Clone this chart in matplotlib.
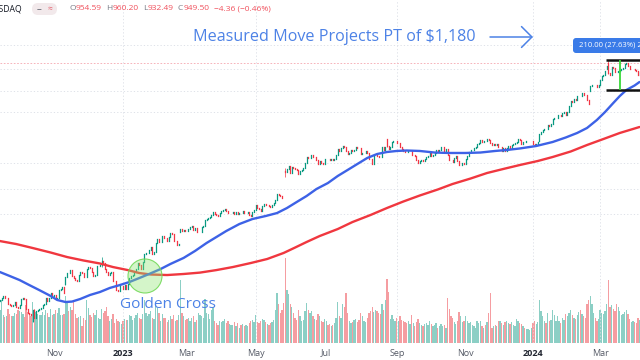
import matplotlib
matplotlib.use("Agg")
import matplotlib.pyplot as plt
import numpy as np
import pandas as pd
from matplotlib.patches import Ellipse, FancyBboxPatch
from matplotlib.transforms import IdentityTransform

W, H = 640, 360

# daily closes, 2022-09-15 .. 2024-04-05
close = [
    130.3, 131.9, 134.0, 131.8, 132.6, 125.6, 125.2, 124.0, 124.9, 127.6, 122.2, 121.4,  # Sep 22
    124.5, 131.0, 132.1, 131.3, 120.8, 116.7, 115.9, 115.0, 119.6, 112.3,
    118.9, 119.7, 120.5, 121.9, 124.7, 125.9, 132.6, 129.0, 131.8, 138.3, 135.0,  # Oct
    135.4, 131.0, 132.6, 141.6, 142.2, 145.0, 137.5, 157.5, 163.3, 163.2,
    166.7, 159.1, 156.8, 154.1, 153.2, 160.4, 165.2, 163.2, 158.3, 157.8, 169.2,  # Nov
    171.9, 169.6, 165.0, 158.7, 160.5, 172.4, 172.7, 174.1, 180.3, 177.6,
    169.2, 165.0, 160.9, 162.6, 164.3, 153.2, 152.1, 141.2, 140.4, 146.0, 146.1,  # Dec
    143.2, 147.5, 142.7, 148.6, 156.3, 159.1, 160.0, 165.1, 169.0, 177.0,
    173.8, 168.6, 178.4, 192.0, 192.6, 193.2, 198.0, 203.7, 191.9, 195.4,  # Jan 23
    209.4, 217.9, 211.0, 211.7, 222.3, 219.3, 218.4, 212.7, 221.3, 228.2,
    225.4, 213.9, 213.9, 206.6, 207.3, 236.6, 232.9, 234.4, 232.2,  # Feb
    231.4, 236.6, 239.3, 242.6, 233.6, 237.9, 229.2, 229.7, 230.0, 240.6, 242.3, 255.4,
    257.3, 259.0, 262.0, 264.7, 271.9, 267.8, 265.3, 264.1, 269.8, 273.8, 277.8,  # Mar
    279.7, 274.5, 268.8, 270.4, 271.0, 272.3, 267.7, 273.1, 267.4, 270.4,
    269.4, 273.8, 271.0, 271.0, 272.1, 265.7, 263.8, 271.6, 277.5,  # Apr
    289.1, 282.5, 278.4, 275.4, 286.7, 291.5, 288.5, 289.8, 287.0, 283.4, 289.5,
    294.4, 301.8, 316.8, 312.6, 311.8, 306.9, 305.4, 379.8, 389.5, 401.1, 378.3,  # May
    397.7, 393.3, 391.7, 386.5, 374.75, 385.1, 387.7, 394.8, 410.2, 430.0,
    426.5, 426.9, 438.1, 430.1, 430.3, 422.1, 406.3, 418.8, 411.2, 408.2, 423.0,  # Jun
    424.1, 423.2, 421.8, 425.0, 421.8, 424.1, 439.0, 459.8, 454.7, 464.6,
    474.9, 470.8, 455.2, 443.1, 446.1, 456.8, 454.5, 459.0, 467.5, 467.3,  # Jul
    465.1, 442.7, 445.2, 446.8, 454.2, 446.6, 425.5, 423.9, 408.5, 437.5, 439.4, 434.9,
    433.4, 433.0, 469.7, 456.7, 471.2, 471.6, 460.2, 468.4, 487.8, 492.6, 493.6,  # Aug
    485.1, 485.5, 470.6, 462.4, 455.7, 451.8, 448.7, 454.9, 455.8, 439.0,
    439.7, 435.2, 422.4, 410.2, 416.1, 422.2, 419.1, 424.7, 430.9, 435.0,  # Sep
    447.8, 435.2, 440.4, 446.9, 457.6, 452.7, 458.0, 468.1, 469.5, 454.6, 461.0,
    439.4, 422.0, 421.0, 413.9, 429.8, 436.6, 417.8, 403.3, 405.0, 411.6, 407.8,  # Oct
    423.2, 435.1, 450.1, 457.5, 459.6, 465.7, 469.5, 483.4, 486.2, 496.6,
    488.9, 494.8, 493.0, 504.1, 499.4, 487.2, 477.8, 482.4, 478.2, 481.4, 467.7,  # Nov
    467.7, 455.1, 465.7, 455.0, 466.0, 475.1, 466.3, 476.6, 480.9, 483.5,
    488.9, 500.8, 496.0, 481.1, 489.9, 488.3, 492.8, 494.2, 495.2, 495.2,  # Dec
    481.7, 475.7, 480.0, 491.0, 522.5, 531.4, 543.5, 548.2, 547.1, 563.8,
    560.5, 571.1, 594.9, 596.5, 598.7, 613.6, 616.2, 610.3, 624.7, 627.7, 615.3,  # Jan 24
    630.3, 661.6, 693.3, 682.2, 701.0, 696.4, 721.3, 722.5, 721.3, 739.0,
    726.6, 726.1, 694.5, 674.7, 785.4, 788.2, 790.9, 787.0, 776.6, 791.1,  # Feb
    822.8, 852.4, 859.6, 887.0, 926.7, 875.3, 857.7, 919.1, 908.9, 879.4,
    878.4, 884.6, 894.0, 903.7, 914.4, 942.9, 950.0, 925.6, 902.5, 903.6,  # Mar
    903.6, 894.5, 889.6, 859.1, 880.1,  # Apr
]

# volume, millions of shares
volume = [
    60, 77, 50, 47, 49, 61, 53, 48, 49, 55, 53, 60,
    58, 56, 52, 47, 68, 57, 53, 48, 74, 62, 56, 53, 51, 50, 57, 50, 60, 54, 47, 62, 50,
    53, 59, 55, 64, 50, 50, 52, 85, 73, 58, 66, 59, 78, 52, 46, 47, 48, 30, 46, 42, 77,
    64, 50, 47, 55, 50, 60, 45, 44, 62, 55, 58, 65, 48, 40, 44, 52, 36, 44, 40, 38, 35,
    40, 43, 41, 42, 50, 49, 42, 46, 51, 55, 46, 43, 53, 77, 55, 48, 52, 58, 45, 44,
    70, 63, 55, 40, 52, 45, 45, 38, 42, 48, 43, 50, 40, 42, 50, 114, 54, 48, 42,
    43, 46, 40, 45, 48, 38, 42, 55, 50, 48, 46, 80, 55, 52, 44, 60, 65, 40, 36, 32, 40, 38, 40,
    43, 37, 40, 34, 32, 33, 38, 30, 36, 28, 32, 34, 30, 32, 30, 37, 40, 42, 38,
    50, 38, 36, 40, 44, 42, 38, 35, 33, 36, 38, 42, 60, 90, 70, 55, 60, 72, 154, 96, 88, 70,
    65, 55, 45, 42, 60, 48, 40, 42, 58, 72, 60, 55, 58, 48, 44, 42, 52, 48, 40, 38, 44,
    40, 32, 35, 30, 33, 36, 45, 75, 48, 46, 70, 66, 90, 55, 40, 36, 38, 42, 44, 38,
    42, 55, 48, 40, 38, 45, 55, 58, 66, 56, 60, 58, 54, 52, 70, 60, 78, 116, 92, 44, 50, 44, 40,
    45, 40, 48, 42, 40, 38, 36, 40, 34, 50, 36, 30, 38, 44, 36, 32, 30, 34, 36, 32,
    40, 34, 30, 32, 36, 28, 30, 34, 30, 32, 28, 82, 62, 48, 46, 38, 34, 40, 56, 48, 38, 40,
    48, 40, 36, 38, 32, 30, 28, 40, 36, 40, 30, 28, 32, 38, 55, 90, 28, 30, 32, 30, 40,
    40, 36, 32, 38, 40, 36, 34, 38, 32, 30, 44, 40, 36, 34, 30, 28, 26, 26, 24, 28,
    36, 40, 34, 38, 78, 58, 48, 40, 36, 55, 40, 42, 60, 50, 40, 48, 40, 36, 46, 42, 52,
    48, 55, 60, 50, 45, 44, 50, 56, 60, 52, 48, 46, 70, 78, 85, 70, 55, 45, 40, 44,
    60, 55, 52, 58, 70, 114, 66, 68, 62, 58, 70, 66, 58, 50, 52, 56, 60, 52, 44, 38,
    40, 38, 36, 46, 42,
]

# bars whose open is not the previous close (gaps)
gap_open = {0: 129.0, 20: 109.0, 40: 148.5, 110: 230.2, 174: 385.0,
            236: 502.2, 329: 495.1, 360: 750.2, 370: 901.6, 371: 951.4}
# notable wicks (low, high)
wicks = {20: (108.1, 119.8), 40: (148.0, 158.0), 62: (172.0, 187.0),
         174: (366.0, 394.8), 236: (471.0, 502.7), 371: (865.0, 974.0)}

# moving averages (bar index, value)
ma50_bar = [0, 6, 12, 18, 24, 31, 35, 40, 44, 49, 55, 61, 67, 73, 79, 85, 91, 98,
            104, 112, 119, 126, 132, 138, 146, 154, 162, 169, 175, 181, 187, 193,
            200, 206, 212, 218, 224, 230, 236, 242, 248, 256, 265, 274, 284, 293,
            302, 309, 317, 327, 337, 345, 352, 358, 364, 369, 374, 378, 382, 387, 390]
ma50 = [164.5, 159.1, 153.8, 147.4, 141.4, 134.5, 130.1, 127.9, 128.4, 131.2, 135.7,
        139.1, 143.9, 147.4, 151.3, 156.4, 161.8, 168.7, 176.0, 185.1, 196.3, 209.8,
        220.6, 232.0, 246.0, 256.6, 263.1, 269.8, 281.3, 296.0, 311.2, 330.0, 347.0,
        368.1, 387.1, 407.2, 428.2, 442.6, 450.2, 454.1, 455.9, 454.1, 448.2, 446.5,
        446.5, 448.2, 454.1, 457.8, 463.7, 473.4, 489.5, 508.4, 528.1, 550.6, 588.8,
        629.7, 678.9, 720.1, 757.3, 786.4, 809.8]
ma200_bar = [0, 10, 20, 31, 41, 51, 61, 69, 78, 85, 92, 102, 112, 122, 132, 142,
             153, 163, 173, 180, 187, 195, 206, 215, 226, 236, 246, 256, 267, 276,
             287, 297, 307, 317, 328, 337, 348, 358, 368, 378, 390]
ma200 = [213.3, 208.0, 201.2, 193.7, 186.5, 181.2, 176.7, 171.5, 167.2, 163.1, 161.1,
         160.4, 161.8, 163.7, 167.2, 171.5, 177.4, 183.5, 193.0, 202.0, 211.6, 222.5,
         235.9, 250.2, 265.4, 281.4, 297.2, 312.5, 328.7, 344.2, 360.4, 377.4, 390.5,
         403.6, 417.5, 431.6, 452.0, 477.4, 502.0, 528.1, 555.2]

tick_months = ["2022-11", "2023-01", "2023-03", "2023-05", "2023-07",
               "2023-09", "2023-11", "2024-01", "2024-03"]
tick_labels = ["Nov", "2023", "Mar", "May", "Jul", "Sep", "Nov", "2024", "Mar"]
grid_months = ["2023-01", "2023-05", "2023-09", "2024-01", "2024-03"]
grid_prices = [1105, 903, 751, 630, 410, 330, 268]

last_price = 949.50
range_low, range_high = 760.0, 970.0
range_start, range_mid = 370, 378

HOLIDAYS = ["2022-11-24", "2022-12-26", "2023-01-02", "2023-01-16", "2023-02-20",
            "2023-04-07", "2023-05-29", "2023-06-19", "2023-07-04", "2023-09-04",
            "2023-11-23", "2023-12-25", "2024-01-01", "2024-01-15", "2024-02-19",
            "2024-03-29"]

UP, DOWN = "#089981", "#f23645"
VOL_UP, VOL_DOWN = "#8ccfc5", "#f59da1"
BLUE, RED = "#3d62e6", "#f0373f"
NOTE_BLUE = "#4d82e6"
FONT = "Open Sans"


def fx(px):
    return px / W


def fy(py):
    return 1 - py / H


dates = pd.bdate_range("2022-09-15", periods=len(close), freq="C", holidays=HOLIDAYS)
month_key = dates.strftime("%Y-%m")


def first_bar(month):
    return int(np.argmax(month_key == month))


c = np.array(close)
o = np.r_[c[0], c[:-1]]
for i, v in gap_open.items():
    o[i] = v
x = np.arange(len(c))
up = c >= o

plt.rcParams["font.family"] = [FONT, "DejaVu Sans"]
fig = plt.figure(figsize=(W / 100, H / 100), dpi=100)
rect = [0, 17 / H, 1, 343 / H]

ax_vol = fig.add_axes(rect)
ax_vol.bar(x, volume, width=0.8, color=np.where(up, VOL_UP, VOL_DOWN), linewidth=0)
ax_vol.set_ylim(0, 621)
ax_vol.set_xlim(0.07, 390.3)
ax_vol.axis("off")

ax = fig.add_axes(rect, sharex=ax_vol)
ax.patch.set_alpha(0)
ax.set_yscale("log")
ax.set_ylim(90.7, 1611)
ax.set_xlim(0.07, 390.3)
for s in ax.spines.values():
    s.set_visible(False)
ax.yaxis.set_visible(False)

for p in grid_prices:
    ax.axhline(p, color="#d9dde5", lw=0.6, ls=(0, (1.5, 2.5)), zorder=0)
for m in grid_months:
    ax.axvline(first_bar(m), color="#d9dde5", lw=0.6, ls=(0, (1.5, 2.5)), zorder=0)
ax.axhline(last_price, color="#f5a6af", lw=0.6, ls=(0, (2, 2)), zorder=1)

wk = list(wicks)
ax.vlines(wk, [wicks[i][0] for i in wk], [wicks[i][1] for i in wk],
          colors=[UP if up[i] else DOWN for i in wk], lw=0.5, zorder=2)
bodies = ax.vlines(x, np.minimum(o, c), np.maximum(o, c),
                   colors=np.where(up, UP, DOWN), lw=0.9, zorder=2)
bodies.set_capstyle("projecting")

ax.plot(ma200_bar, ma200, color=RED, lw=1.7, zorder=3,
        solid_capstyle="round", solid_joinstyle="round")
ax.plot(ma50_bar, ma50, color=BLUE, lw=1.7, zorder=3,
        solid_capstyle="round", solid_joinstyle="round")

# measured move range tool
ax.hlines([range_low, range_high], range_start - 0.5, 400, colors="#111111", lw=1.8, zorder=5)
ax.vlines(range_mid, range_low, range_high, colors="#39d839", lw=1.3, zorder=5)

ax.set_xticks([first_bar(m) for m in tick_months], tick_labels)
ax.tick_params(axis="x", length=0, pad=4, labelsize=6.5, labelcolor="#555a66")
for lab in ax.get_xticklabels():
    if lab.get_text().isdigit():
        lab.set_fontweight("bold")
        lab.set_color("#222631")

renderer = fig.canvas.get_renderer()


def fit_width(t, target):
    w = t.get_window_extent(renderer).width
    t.set_fontsize(t.get_fontsize() * target / w)


# golden cross marker
fig.add_artist(Ellipse((fx(145), fy(276)), 34 / W, 34 / H, transform=fig.transFigure,
                       facecolor=(0.56, 0.90, 0.45, 0.38), edgecolor=(0.45, 0.85, 0.35, 0.9),
                       lw=0.8, zorder=6))
t = fig.text(fx(120), fy(305), "Golden Cross", color=NOTE_BLUE, fontsize=11,
             ha="left", va="center")
fit_width(t, 96)

t = fig.text(fx(193), fy(37), "Measured Move Projects PT of $1,180", color=NOTE_BLUE,
             fontsize=11, ha="left", va="center")
fit_width(t, 282)
ax.annotate("", xy=(533, H - 37), xytext=(490, H - 37), xycoords="figure pixels",
            textcoords="figure pixels",
            arrowprops=dict(arrowstyle="->,head_length=0.75,head_width=0.75",
                            color=NOTE_BLUE, lw=1.1, shrinkA=0, shrinkB=0))

# range label, cut by the right edge as in the source
fig.add_artist(FancyBboxPatch((573, H - 53), 100, 15, boxstyle="round,pad=0,rounding_size=3",
                              transform=IdentityTransform(), facecolor="#3a7be8",
                              edgecolor="none", zorder=7))
fig.text(fx(579), fy(45.5), "210.00 (27.63%) 21000", color="white", fontsize=5.5,
         ha="left", va="center", zorder=8)

# header, cut by the left edge as in the source
fig.text(fx(22), fy(9), "NVIDIA Corporation · 1D · NASDAQ", color="#131722",
         fontsize=6.2, ha="right", va="center")
fig.add_artist(FancyBboxPatch((32, H - 15), 25, 12, boxstyle="round,pad=0,rounding_size=6",
                              transform=IdentityTransform(), facecolor="#f2e9eb",
                              edgecolor="none"))
fig.text(fx(39), fy(9), "−", color="#6a6d78", fontsize=6, ha="center", va="center",
         fontweight="bold")
fig.text(fx(50), fy(9), "≈", color="#e35d6a", fontsize=6, ha="center", va="center")

grey, red = "#787b86", "#f0505c"
parts = [("O", grey, 0), ("954.59", red, 0.5), ("H", grey, 4), ("960.20", red, 0.5),
         ("L", grey, 4), ("932.49", red, 0.5), ("C", grey, 4), ("949.50", red, 0.5),
         ("−4.36 (−0.46%)", red, 4)]
xpos = 69
for s, col, gap in parts:
    xpos += gap
    t = fig.text(fx(xpos), fy(9), s, color=col, fontsize=6.0, ha="left", va="center")
    xpos += t.get_window_extent(renderer).width

fig.savefig("out.png", dpi=100)
